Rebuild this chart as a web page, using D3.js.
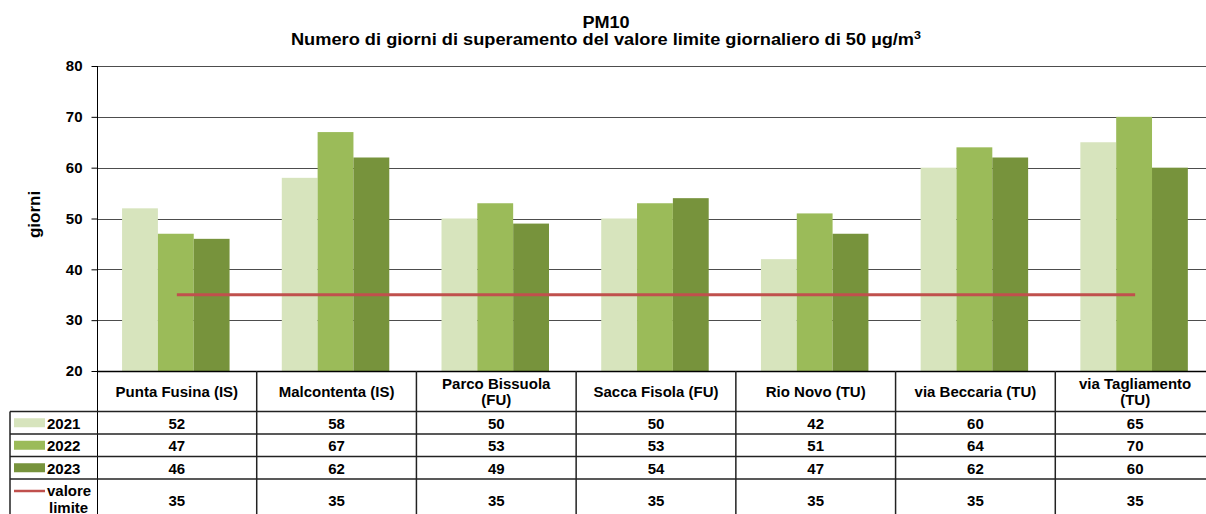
<!DOCTYPE html>
<html>
<head>
<meta charset="utf-8">
<script src="https://cdn.jsdelivr.net/npm/d3@7"></script>
<style>
  body { margin: 0; background: #fff; }
  svg text { font-family: "Liberation Sans", Arial, sans-serif; font-weight: bold; fill: #000; }
</style>
</head>
<body>
<div id="chart"></div>
<script>
var width = 1206,
  height = 514;

// data
var stations = ['Punta Fusina (IS)', 'Malcontenta (IS)', 'Parco Bissuola (FU)', 'Sacca Fisola (FU)',
  'Rio Novo (TU)', 'via Beccaria (TU)', 'via Tagliamento (TU)'];
var stationLines = [['Punta Fusina (IS)'], ['Malcontenta (IS)'], ['Parco Bissuola', '(FU)'], ['Sacca Fisola (FU)'],
  ['Rio Novo (TU)'], ['via Beccaria (TU)'], ['via Tagliamento', '(TU)']];
var years = ['2021', '2022', '2023'];
var values2021 = [52, 58, 50, 50, 42, 60, 65];
var values2022 = [47, 67, 53, 53, 51, 64, 70];
var values2023 = [46, 62, 49, 54, 47, 62, 60];
var limitValues = [35, 35, 35, 35, 35, 35, 35];
var yTicks = [20, 30, 40, 50, 60, 70, 80];
var colors = ['#d7e4bd', '#9bbb59', '#77933c'];
var limitColor = '#c0504d';

var series = [values2021, values2022, values2023];

var svg = d3.select('#chart').append('svg')
  .attr('width', width)
  .attr('height', height);

var plotLeft = 97, plotRight = 1215, plotTop = 66, plotBottom = 371;

var x0 = d3.scaleBand().domain(stations).range([plotLeft, plotRight]).padding(0);
var x1 = d3.scaleBand().domain(years)
  .range([x0.bandwidth() * 0.157, x0.bandwidth() * 0.83]).padding(0);
var y = d3.scaleLinear().domain([20, 80]).range([plotBottom, plotTop]);

// title (the reference is a bit stretched horizontally)
svg.append('text').attr('transform', 'translate(606,28) scale(1.13,1)').attr('text-anchor', 'middle')
  .style('font-size', '16px').text('PM10');
var t2 = svg.append('text').attr('transform', 'translate(606,45) scale(1.14,1)').attr('text-anchor', 'middle')
  .style('font-size', '16px');
t2.append('tspan').text('Numero di giorni di superamento del valore limite giornaliero di 50 µg/m');
t2.append('tspan').attr('dy', -6).style('font-size', '11px').text('3');

// gridlines
svg.append('g').selectAll('line')
  .data(yTicks.slice(1))
  .join('line')
  .attr('x1', plotLeft).attr('x2', plotRight)
  .attr('y1', d => Math.round(y(d)) + 0.5).attr('y2', d => Math.round(y(d)) + 0.5)
  .attr('stroke', '#4d4d4d').attr('stroke-width', 1);

// bars
series.forEach(function(vals, si) {
  svg.append('g').selectAll('rect')
    .data(vals)
    .join('rect')
    .attr('x', (d, i) => x0(stations[i]) + x1(years[si]))
    .attr('width', x1.bandwidth())
    .attr('y', d => y(d))
    .attr('height', d => y(20) - y(d))
    .attr('fill', colors[si]);
});

// limit line
var line = d3.line()
  .x((d, i) => x0(stations[i]) + x0.bandwidth() / 2)
  .y(d => y(d));
svg.append('path')
  .datum(limitValues)
  .attr('d', line)
  .attr('fill', 'none')
  .attr('stroke', limitColor)
  .attr('stroke-width', 3);

// y axis
var yAxis = d3.axisLeft(y).tickValues(yTicks).tickSize(6).tickPadding(9);
var ga = svg.append('g').attr('transform', 'translate(' + (plotLeft + 0.5) + ',0)').call(yAxis);
ga.select('.domain').remove();
ga.selectAll('line').attr('stroke', '#000');
ga.selectAll('text').style('font-size', '15px').style('font-family', '"Liberation Sans", Arial, sans-serif')
  .style('font-weight', 'bold');
svg.append('line').attr('x1', plotLeft + 0.5).attr('x2', plotLeft + 0.5)
  .attr('y1', plotTop).attr('y2', height).attr('stroke', '#000');

svg.append('text')
  .attr('transform', 'translate(40,214.5) rotate(-90)')
  .attr('text-anchor', 'middle')
  .style('font-size', '17px')
  .text('giorni');

// data table
var rowTops = [411.5, 434, 456.5, 479, 530];
var tableLeft = 10;

svg.append('line').attr('x1', plotLeft).attr('x2', plotRight)
  .attr('y1', plotBottom + 0.5).attr('y2', plotBottom + 0.5).attr('stroke', '#000').attr('stroke-width', 1.5);

svg.append('g').selectAll('line')
  .data(rowTops.slice(0, 4))
  .join('line')
  .attr('x1', tableLeft).attr('x2', plotRight)
  .attr('y1', d => d).attr('y2', d => d)
  .attr('stroke', '#222').attr('stroke-width', 1.5);

svg.append('g').selectAll('line')
  .data(stations.slice(1))
  .join('line')
  .attr('x1', d => x0(d)).attr('x2', d => x0(d))
  .attr('y1', plotBottom).attr('y2', height)
  .attr('stroke', '#222').attr('stroke-width', 1.5);

svg.append('line').attr('x1', tableLeft).attr('x2', tableLeft)
  .attr('y1', rowTops[0]).attr('y2', height).attr('stroke', '#222').attr('stroke-width', 1.5);

// header labels
stationLines.forEach(function(lines, i) {
  var cx = x0(stations[i]) + x0.bandwidth() / 2;
  var startY = lines.length === 1 ? 397 : 389;
  lines.forEach(function(l, j) {
    svg.append('text').attr('x', cx).attr('y', startY + j * 16)
      .attr('text-anchor', 'middle').style('font-size', '15px').text(l);
  });
});

// value rows
var rowData = [values2021, values2022, values2023, limitValues];
rowData.forEach(function(vals, r) {
  var base = r < 3 ? (rowTops[r] + rowTops[r + 1]) / 2 + 6 : 506;
  svg.append('g').selectAll('text')
    .data(vals)
    .join('text')
    .attr('x', (d, i) => x0(stations[i]) + x0.bandwidth() / 2)
    .attr('y', base)
    .attr('text-anchor', 'middle')
    .style('font-size', '15px')
    .text(d => d);
});

// legend keys in table
years.forEach(function(yr, r) {
  var cy = (rowTops[r] + rowTops[r + 1]) / 2;
  svg.append('rect').attr('x', 14).attr('y', cy - 4.5).attr('width', 31).attr('height', 9)
    .attr('fill', colors[r]);
  svg.append('text').attr('x', 47).attr('y', cy + 6).style('font-size', '15px').text(yr);
});
svg.append('line').attr('x1', 14).attr('x2', 45).attr('y1', 491).attr('y2', 491)
  .attr('stroke', limitColor).attr('stroke-width', 2.5);
svg.append('text').attr('x', 47).attr('y', 496).style('font-size', '15px').text('valore');
svg.append('text').attr('x', 49).attr('y', 513).style('font-size', '15px').text('limite');
</script>
</body>
</html>
